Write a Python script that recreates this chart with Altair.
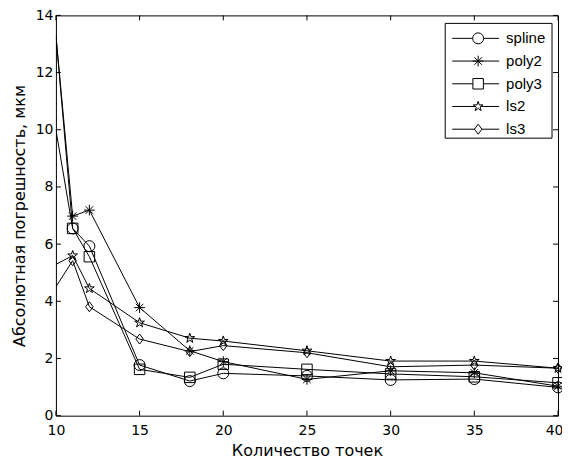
import altair as alt
import pandas as pd

names = ["spline", "poly2", "poly3", "ls2", "ls3"]
x_vals = [10, 11, 12, 15, 18, 20, 25, 30, 35, 40]
spline = [13.3, 6.55, 5.93, 1.77, 1.21, 1.48, 1.39, 1.25, 1.28, 0.99]
poly2 = [13.3, 6.98, 7.19, 3.78, 2.27, 1.89, 1.27, 1.57, 1.50, 1.03]
poly3 = [10.0, 6.55, 5.56, 1.62, 1.34, 1.80, 1.62, 1.46, 1.36, 1.15]
ls2 = [5.29, 5.60, 4.45, 3.25, 2.71, 2.61, 2.27, 1.91, 1.91, 1.66]
ls3 = [4.51, 5.42, 3.81, 2.68, 2.24, 2.45, 2.20, 1.71, 1.77, 1.66]
x_ticks = [10, 15, 20, 25, 30, 35, 40]
y_ticks = [0, 2, 4, 6, 8, 10, 12, 14]

series = [spline, poly2, poly3, ls2, ls3]
rows = []
for n, vals in zip(names, series):
    for xv, v in zip(x_vals, vals):
        rows.append({"x": xv, "v": v, "series": n})
df = pd.DataFrame(rows)

asterisk = "M0,-1L0,1M-1,0L1,0M-0.7,-0.7L0.7,0.7M-0.7,0.7L0.7,-0.7"
pentagram = ("M0,-1L0.225,-0.309L0.951,-0.309L0.363,0.118L0.588,0.809L0,0.382"
             "L-0.588,0.809L-0.363,0.118L-0.951,-0.309L-0.225,-0.309Z")
diamond = "M0,-1L0.75,0L0,1L-0.75,0Z"
shape_scale = alt.Scale(domain=names, range=["circle", asterisk, "square", pentagram, diamond])
size_scale = alt.Scale(domain=names, range=[121, 100, 81, 110, 144])

W, H = 503, 401
xs = alt.Scale(domain=[10, 40], nice=False, zero=False)
ys = alt.Scale(domain=[0, 14], nice=False, zero=True)

base = alt.Chart(df)
lines = base.mark_line(color="black", strokeWidth=1, clip=True).encode(
    x=alt.X("x:Q", scale=xs, axis=alt.Axis(
        values=x_ticks, title="Количество точек",
        labelPadding=8, titlePadding=5, labelFlush=False,
        labelAlign={"expr": "datum.value == 40 ? 'right' : 'center'"},
        labelOffset={"expr": "datum.value == 40 ? 5 : 0"},
    )),
    y=alt.Y("v:Q", scale=ys, axis=alt.Axis(values=y_ticks, title="Абсолютная погрешность, мкм",
                                           labelPadding=3, titlePadding=8, labelFlush=False)),
    detail="series:N",
)
points = base.transform_filter("datum.x > 10").mark_point(
    filled=False, color="black", strokeWidth=1, opacity=1
).encode(
    x=alt.X("x:Q", scale=xs),
    y=alt.Y("v:Q", scale=ys),
    shape=alt.Shape("series:N", scale=shape_scale, legend=None),
    size=alt.Size("series:N", scale=size_scale, legend=None),
)

xt = pd.DataFrame({"x": x_ticks})
yt = pd.DataFrame({"v": y_ticks})
xtick_b = alt.Chart(xt).mark_rule(color="black", strokeWidth=1).encode(
    x=alt.X("x:Q", scale=xs), y=alt.value(H), y2=alt.value(H - 5))
xtick_t = alt.Chart(xt).mark_rule(color="black", strokeWidth=1).encode(
    x=alt.X("x:Q", scale=xs), y=alt.value(0), y2=alt.value(5))
ytick_l = alt.Chart(yt).mark_rule(color="black", strokeWidth=1).encode(
    y=alt.Y("v:Q", scale=ys), x=alt.value(0), x2=alt.value(5))
ytick_r = alt.Chart(yt).mark_rule(color="black", strokeWidth=1).encode(
    y=alt.Y("v:Q", scale=ys), x=alt.value(W), x2=alt.value(W - 5))

data_layer = alt.layer(lines, xtick_b, xtick_t, ytick_l, ytick_r, points)

leg_df = pd.DataFrame({"series": names})
leg_y = alt.Y("series:N", scale=alt.Scale(type="point", domain=names, range=[23, 114], padding=0),
              axis=None)
box = alt.Chart(pd.DataFrame({"a": [0]})).mark_rect(
    fill="white", stroke="black", strokeWidth=1
).encode(x=alt.value(390), x2=alt.value(497), y=alt.value(8), y2=alt.value(123))
leg_lines = alt.Chart(leg_df).mark_rule(color="black", strokeWidth=1).encode(
    x=alt.value(397), x2=alt.value(444), y=leg_y)
leg_pts = alt.Chart(leg_df).mark_point(
    filled=False, color="black", strokeWidth=1, opacity=1, fill="white"
).encode(
    x=alt.value(423), y=leg_y,
    shape=alt.Shape("series:N", scale=shape_scale, legend=None),
    size=alt.Size("series:N", scale=size_scale, legend=None),
)
leg_text = alt.Chart(leg_df).mark_text(
    align="left", baseline="middle", fontSize=15, font="Liberation Sans", color="black"
).encode(x=alt.value(451), y=leg_y, text="series:N")
legend_layer = alt.layer(box, leg_lines, leg_pts, leg_text)

chart = alt.layer(data_layer, legend_layer).resolve_scale(y="independent").properties(
    width=W, height=H,
    padding={"left": 48, "top": 7, "right": 4, "bottom": 45},
    autosize=alt.AutoSizeParams(type="none"),
    background="white",
).configure_view(stroke="black", strokeWidth=1).configure_axis(
    grid=False, ticks=False, domain=False,
    labelFont="DejaVu Sans", labelFontSize=14, labelColor="black",
    titleFont="DejaVu Sans", titleFontSize=16, titleFontWeight="normal", titleColor="black",
)

chart.save("out.html", embed_options={"renderer": "svg", "actions": False})
